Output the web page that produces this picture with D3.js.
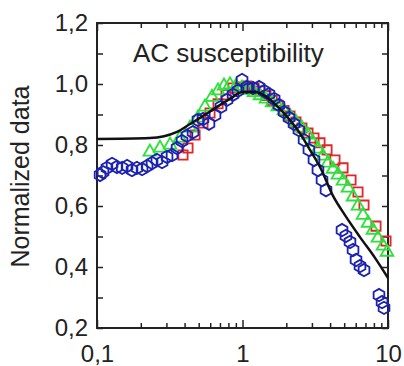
<!DOCTYPE html>
<html>
<head>
<meta charset="utf-8">
<script src="https://cdn.jsdelivr.net/npm/d3@7"></script>
<style>
  body { margin: 0; background: #fff; }
  svg text { font-family: Arial, "Liberation Sans", sans-serif; fill: #222; }
</style>
</head>
<body>
<div id="chart"></div>
<script>
// model curve (black line)
const modelX = [0.1, 0.231, 0.355, 0.436, 0.535, 0.668, 0.82, 1.0, 1.22, 1.43, 1.67, 2.12, 2.48, 2.91, 3.41, 4.19, 5.06, 6.42, 8.14, 10];
const modelY = [0.820, 0.823, 0.843, 0.869, 0.895, 0.925, 0.951, 0.974, 0.974, 0.961, 0.934, 0.882, 0.839, 0.784, 0.728, 0.633, 0.570, 0.498, 0.430, 0.364];

// red squares
const redX = [0.390, 0.422, 0.472, 0.535, 0.598, 0.679, 0.770, 0.861, 0.961, 1.07, 1.20, 1.32, 1.45, 1.60, 1.75, 1.93, 2.12, 2.33, 2.56, 2.82, 3.10, 3.41, 3.81, 4.32, 4.91, 5.57, 6.22, 6.84, 8.27, 9.69];
const redY = [0.767, 0.790, 0.833, 0.872, 0.905, 0.935, 0.965, 0.987, 0.990, 0.993, 0.987, 0.977, 0.962, 0.946, 0.930, 0.913, 0.895, 0.875, 0.856, 0.839, 0.823, 0.807, 0.784, 0.751, 0.725, 0.685, 0.646, 0.603, 0.534, 0.485];

// green triangles
const greenX = [0.231, 0.271, 0.318, 0.372, 0.436, 0.494, 0.552, 0.617, 0.679, 0.746, 0.820, 0.902, 0.993, 1.09, 1.20, 1.32, 1.45, 1.60, 1.75, 1.93, 2.12, 2.33, 2.56, 2.82, 3.05, 3.30, 3.57, 3.87, 4.19, 4.53, 4.91, 5.31, 5.75, 6.22, 6.73, 7.29, 7.89, 8.53, 9.25, 9.84];
const greenY = [0.777, 0.790, 0.800, 0.823, 0.856, 0.889, 0.925, 0.957, 0.978, 0.994, 0.998, 0.993, 0.987, 0.980, 0.972, 0.962, 0.951, 0.939, 0.926, 0.913, 0.895, 0.875, 0.856, 0.833, 0.810, 0.787, 0.764, 0.741, 0.721, 0.702, 0.682, 0.659, 0.630, 0.600, 0.570, 0.544, 0.521, 0.495, 0.469, 0.449];

// blue hexagons
const blueX = [0.105, 0.110, 0.117, 0.127, 0.137, 0.149, 0.161, 0.174, 0.188, 0.204, 0.221, 0.239, 0.258, 0.280, 0.303, 0.328, 0.355, 0.384, 0.415, 0.457, 0.494, 0.535, 0.588, 0.647, 0.711, 0.782, 0.861, 0.931, 0.993, 1.07, 1.18, 1.30, 1.41, 1.52, 1.65, 1.78, 1.93, 2.09, 2.26, 2.44, 2.65, 2.86, 3.10, 3.30, 3.52, 3.75, 4.83, 5.14, 5.48, 5.75, 6.03, 6.42, 6.84, 8.67, 9.10, 9.39];
const blueY = [0.702, 0.711, 0.725, 0.738, 0.728, 0.725, 0.731, 0.718, 0.725, 0.721, 0.731, 0.741, 0.751, 0.744, 0.761, 0.767, 0.790, 0.813, 0.830, 0.842, 0.882, 0.885, 0.870, 0.898, 0.925, 0.948, 0.965, 0.978, 1.013, 0.990, 0.987, 0.990, 0.977, 0.967, 0.951, 0.931, 0.908, 0.889, 0.869, 0.849, 0.816, 0.784, 0.751, 0.718, 0.685, 0.652, 0.521, 0.502, 0.482, 0.456, 0.423, 0.403, 0.390, 0.308, 0.285, 0.266];

const yTicks = [0.2, 0.4, 0.6, 0.8, 1.0, 1.2];
const yMinor = [0.3, 0.5, 0.7, 0.9, 1.1];
const xTicks = [0.1, 1, 10];
const xMinor = [0.2, 0.3, 0.4, 0.5, 0.6, 0.7, 0.8, 0.9, 2, 3, 4, 5, 6, 7, 8, 9];

const W = 404, H = 366;
const margin = { top: 23, right: 16, bottom: 38, left: 97 };
const width = W - margin.left - margin.right;
const height = H - margin.top - margin.bottom;

const svg = d3.select('#chart').append('svg').attr('width', W).attr('height', H);
const g = svg.append('g').attr('transform', `translate(${margin.left},${margin.top})`);

const xScale = d3.scaleLog().domain([0.1, 10]).range([0, width]);
const yScale = d3.scaleLinear().domain([0.2, 1.2]).range([height, 0]);

const commaFmt = (d) => String(d).replace('.', ',');
const yFmt = (d) => d3.format('.1f')(d).replace('.', ',');

function styleAxis(sel) {
  sel.select('.domain').remove();
  sel.selectAll('line').attr('stroke', '#222').attr('stroke-width', 1.5);
  sel.selectAll('text').style('font-size', '24px');
}

// x axes
g.append('g').attr('transform', `translate(0,${height})`)
  .call(d3.axisBottom(xScale).tickValues(xTicks).tickSize(-8).tickPadding(17).tickFormat(commaFmt))
  .call(styleAxis);
g.append('g').attr('transform', `translate(0,${height})`)
  .call(d3.axisBottom(xScale).tickValues(xMinor).tickSize(-5).tickFormat(''))
  .call(styleAxis);
g.append('g')
  .call(d3.axisTop(xScale).tickValues(xTicks).tickSize(-8).tickFormat(''))
  .call(styleAxis);
g.append('g')
  .call(d3.axisTop(xScale).tickValues(xMinor).tickSize(-5).tickFormat(''))
  .call(styleAxis);

// y axes
g.append('g')
  .call(d3.axisLeft(yScale).tickValues(yTicks).tickSize(-6).tickPadding(9).tickFormat(yFmt))
  .call(styleAxis);
g.append('g')
  .call(d3.axisLeft(yScale).tickValues(yMinor).tickSize(-6).tickFormat(''))
  .call(styleAxis);
g.append('g').attr('transform', `translate(${width},0)`)
  .call(d3.axisRight(yScale).tickValues(yTicks.concat(yMinor)).tickSize(-6).tickFormat(''))
  .call(styleAxis);

// frame
g.append('rect')
  .attr('width', width).attr('height', height)
  .attr('fill', 'none').attr('stroke', '#222').attr('stroke-width', 2);

const hexagon = {
  draw(context, size) {
    const r = Math.sqrt((size * 2) / (3 * Math.sqrt(3)));
    for (let i = 0; i < 6; i++) {
      const a = (Math.PI / 3) * i + Math.PI / 6;
      const px = r * Math.cos(a), py = r * Math.sin(a);
      if (i === 0) context.moveTo(px, py); else context.lineTo(px, py);
    }
    context.closePath();
  }
};

const plot = g.append('g');

function drawSeries(xs, ys, type, size, color) {
  plot.append('g').selectAll('path')
    .data(xs.map((x, i) => [x, ys[i]]))
    .enter().append('path')
    .attr('d', d3.symbol().type(type).size(size))
    .attr('transform', (d) => `translate(${xScale(d[0])},${yScale(d[1])})`)
    .attr('fill', 'none')
    .attr('stroke', color)
    .attr('stroke-width', 1.8);
}

drawSeries(redX, redY, d3.symbolSquare, 85, '#e0262b');
drawSeries(greenX, greenY, d3.symbolTriangle, 70, '#2ee03a');
drawSeries(blueX, blueY, hexagon, 100, '#1c22b0');

const line = d3.line()
  .x((d) => xScale(d[0]))
  .y((d) => yScale(d[1]))
  .curve(d3.curveMonotoneX);

g.append('path')
  .datum(modelX.map((x, i) => [x, modelY[i]]))
  .attr('d', line)
  .attr('fill', 'none')
  .attr('stroke', '#111')
  .attr('stroke-width', 2.5);

// title
g.append('text')
  .attr('x', 133 - margin.left)
  .attr('y', 62 - margin.top)
  .style('font-size', '26px')
  .text('AC susceptibility');

// y label
svg.append('text')
  .attr('transform', `translate(29,${margin.top + height / 2 + 1}) rotate(-90)`)
  .attr('text-anchor', 'middle')
  .style('font-size', '25px')
  .text('Normalized data');
</script>
</body>
</html>
